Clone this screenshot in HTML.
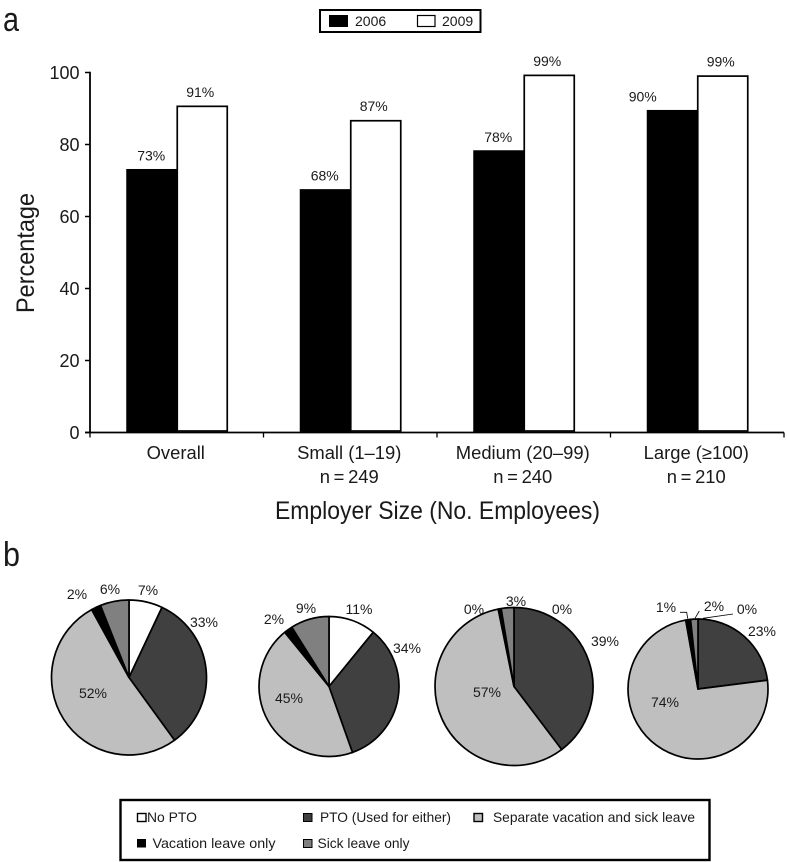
<!DOCTYPE html>
<html lang="en">
<head>
<meta charset="utf-8">
<title>Paid leave by employer size</title>
<style>
html,body{margin:0;padding:0;background:#fff}
svg{display:block;font-family:"Liberation Sans",sans-serif;fill:#111}
text{fill:#1a1a1a}
</style>
</head>
<body>
<svg id="figure" width="787" height="862" viewBox="0 0 787 862" xmlns="http://www.w3.org/2000/svg">
  <text x="3" y="31" font-size="34" textLength="16" lengthAdjust="spacingAndGlyphs">a</text>
  <text x="3" y="566" font-size="34" textLength="17" lengthAdjust="spacingAndGlyphs">b</text>

  <g>
    <rect x="320" y="10" width="160.500" height="22" fill="#fff" stroke="#000" stroke-width="2"/>
    <rect x="329" y="15" width="19" height="12" fill="#000"/>
    <text x="355" y="26" font-size="14">2006</text>
    <rect x="417.500" y="15.500" width="17.500" height="11" fill="#fff" stroke="#000" stroke-width="1.200"/>
    <text x="442" y="26" font-size="14">2009</text>
  </g>

  <g id="bar-chart"></g>

  <text transform="translate(34 253) rotate(-90)" text-anchor="middle" font-size="25" textLength="120" lengthAdjust="spacingAndGlyphs">Percentage</text>
  <text x="437.500" y="519" text-anchor="middle" font-size="25" textLength="325" lengthAdjust="spacingAndGlyphs">Employer Size (No. Employees)</text>

  <g id="pie-overall" data-index="0" data-r="77.500" transform="translate(129 677.500)"></g>
  <g id="pie-small" data-index="1" data-r="70" transform="translate(329 686.500)"></g>
  <g id="pie-medium" data-index="2" data-r="79" transform="translate(514 686.500)"></g>
  <g id="pie-large" data-index="3" data-r="70" transform="translate(698 689)"></g>

  <g font-size="14" text-anchor="middle">
    <text x="148" y="595">7%</text>
    <text x="110" y="594">6%</text>
    <text x="77" y="599">2%</text>
    <text x="204" y="627">33%</text>
    <text x="93" y="698">52%</text>
    <text x="306" y="613">9%</text>
    <text x="359" y="614">11%</text>
    <text x="274" y="624">2%</text>
    <text x="407" y="653">34%</text>
    <text x="289" y="703">45%</text>
    <text x="516" y="606">3%</text>
    <text x="474" y="614">0%</text>
    <text x="562" y="614">0%</text>
    <text x="605" y="646">39%</text>
    <text x="487" y="697">57%</text>
    <text x="666" y="612">1%</text>
    <text x="714" y="611">2%</text>
    <text x="747" y="614">0%</text>
    <text x="762" y="636">23%</text>
    <text x="665" y="707">74%</text>
  </g>
  <g fill="none" stroke="#000" stroke-width="0.800">
    <polyline points="680,612.300 686.700,612.300 687.700,618.500"/>
    <polyline points="699.300,611 695,618.300"/>
    <polyline points="733,614 703,618.300"/>
  </g>

  <g font-size="14">
    <rect x="120.500" y="800" width="589" height="60" fill="none" stroke="#000" stroke-width="2.400"/>
    <rect x="137.500" y="813.500" width="8.500" height="8" fill="#fff" stroke="#000" stroke-width="1.400"/>
    <text x="147" y="822" textLength="50" lengthAdjust="spacingAndGlyphs">No PTO</text>
    <rect x="303.500" y="813.500" width="8.500" height="8" fill="#404040" stroke="#000" stroke-width="1"/>
    <text x="320" y="822" textLength="131" lengthAdjust="spacingAndGlyphs">PTO (Used for either)</text>
    <rect x="474" y="813.500" width="8.500" height="8" fill="#bfbfbf" stroke="#000" stroke-width="1.400"/>
    <text x="493" y="822" textLength="202" lengthAdjust="spacingAndGlyphs">Separate vacation and sick leave</text>
    <rect x="137" y="839" width="9" height="8.500" fill="#000"/>
    <text x="152.500" y="848" textLength="123" lengthAdjust="spacingAndGlyphs">Vacation leave only</text>
    <rect x="303.500" y="839.500" width="8.500" height="8" fill="#808080" stroke="#000" stroke-width="1"/>
    <text x="317.500" y="848" textLength="92" lengthAdjust="spacingAndGlyphs">Sick leave only</text>
  </g>
</svg>

<script>
const categories = ['Overall', 'Small (1\u201319)', 'Medium (20\u201399)', 'Large (\u2265100)'];
const sampleSizes = ['', 'n\u2009=\u2009249', 'n\u2009=\u2009240', 'n\u2009=\u2009210'];
const values2006 = [73.2, 67.6, 78.4, 89.6];
const values2009 = [90.6, 86.6, 99.2, 99];
const printed2006 = ['73%', '68%', '78%', '90%'];
const printed2009 = ['91%', '87%', '99%', '99%'];
const yTicks = [0, 20, 40, 60, 80, 100];

const pieNoPto = [7, 11, 0, 0];
const piePto = [33, 34, 39.7, 23];
const pieSeparate = [52, 45, 57.1, 74.2];
const pieVacation = [2, 2, 0.6, 1.1];
const pieSick = [6, 9, 2.6, 1.7];

const SVG_NS = 'http://www.w3.org/2000/svg';
const plotLeft = 90, plotRight = 784, plotTop = 72.5, plotBottom = 432.5;
function yScale(v) { return plotBottom - (v / 100) * (plotBottom - plotTop); }
function bandStart(i) { return plotLeft + i * (plotRight - plotLeft) / categories.length; }
function bandCenter(i) { return bandStart(i) + (plotRight - plotLeft) / categories.length / 2; }
function make(tag, parent, attrs, content) {
  const el = document.createElementNS(SVG_NS, tag);
  Object.keys(attrs).forEach(function (k) { el.setAttribute(k, attrs[k]); });
  if (content !== undefined) el.textContent = content;
  parent.appendChild(el);
  return el;
}

const chart = document.getElementById('bar-chart');

categories.forEach(function (name, i) {
  const c = bandCenter(i);
  const top6 = yScale(values2006[i]);
  const top9 = yScale(values2009[i]);

  const black = make('rect', chart, { x: c - 50.5, y: top6, width: 51, height: plotBottom - top6, fill: '#000' });
  
  

  const white = make('rect', chart, { x: c + 0.5, y: top9, width: 50, height: plotBottom - top9 - 1.5, fill: '#fff', stroke: '#000', 'stroke-width': 1.7 });
  
  

  const nudge6 = i === 3 ? -29 : 0;
  const label6 = make('text', chart, { x: c - 25.5 + nudge6, y: top6 - 8.5, 'text-anchor': 'middle', 'font-size': 14 }, printed2006[i]);
  
  

  const label9 = make('text', chart, { x: c + 23.5, y: top9 - 9.5, 'text-anchor': 'middle', 'font-size': 14 }, printed2009[i]);
  
  

  const cat = make('text', chart, { x: c - 1, y: 459, 'text-anchor': 'middle', 'font-size': 18.4 }, name);
  
  

  if (sampleSizes[i]) {
    const n = make('text', chart, { x: c - 1, y: 483, 'text-anchor': 'middle', 'font-size': 18.4 }, sampleSizes[i]);
    
    
  }
});

const yAxis = make('line', chart, { x1: plotLeft, x2: plotLeft, y1: plotTop - 0.8, y2: plotBottom + 0.8, stroke: '#000', 'stroke-width': 1.8 });



const xAxis = make('line', chart, { x1: plotLeft - 5, x2: plotRight, y1: plotBottom, y2: plotBottom, stroke: '#000', 'stroke-width': 1.8 });



yTicks.forEach(function (t) {
  const y = yScale(t);
  const tick = make('line', chart, { x1: plotLeft - 5, x2: plotLeft, y1: y, y2: y, stroke: '#000', 'stroke-width': 1.5 });
  
  
  const label = make('text', chart, { x: 79.5, y: y + 6.5, 'text-anchor': 'end', 'font-size': 18 }, String(t));
  
  
});

for (let i = 0; i <= categories.length; i++) {
  const tx = bandStart(i);
  const tick = make('line', chart, { x1: tx, x2: tx, y1: plotBottom, y2: plotBottom + 5, stroke: '#000', 'stroke-width': 1.3 });
  
  
}

const sliceFills = ['#ffffff', '#404040', '#bfbfbf', '#000000', '#808080'];
const sliceNames = ['slice-no-pto', 'slice-pto', 'slice-separate', 'slice-vacation', 'slice-sick'];

function polar(r, fraction) {
  const a = fraction * 2 * Math.PI;
  return [r * Math.sin(a), -r * Math.cos(a)];
}

['pie-overall', 'pie-small', 'pie-medium', 'pie-large'].forEach(function (id) {
  const group = document.getElementById(id);
  const idx = Number(group.dataset.index);
  const r = Number(group.dataset.r);
  const parts = [pieNoPto[idx], piePto[idx], pieSeparate[idx], pieVacation[idx], pieSick[idx]];
  const total = parts.reduce(function (a, b) { return a + b; }, 0);
  let cumulative = 0;
  parts.forEach(function (v, s) {
    if (v <= 0) return;
    const start = polar(r, cumulative / total);
    cumulative += v;
    const end = polar(r, cumulative / total);
    const large = v / total > 0.5 ? 1 : 0;
    const d = 'M0 0L' + start[0] + ' ' + start[1] + 'A' + r + ' ' + r + ' 0 ' + large + ' 1 ' + end[0] + ' ' + end[1] + 'Z';
    const slice = make('path', group, { d: d, fill: sliceFills[s], stroke: '#000', 'stroke-width': 1.7, 'stroke-linejoin': 'round' });
    
    
  });
});
</script>
</body>
</html>
